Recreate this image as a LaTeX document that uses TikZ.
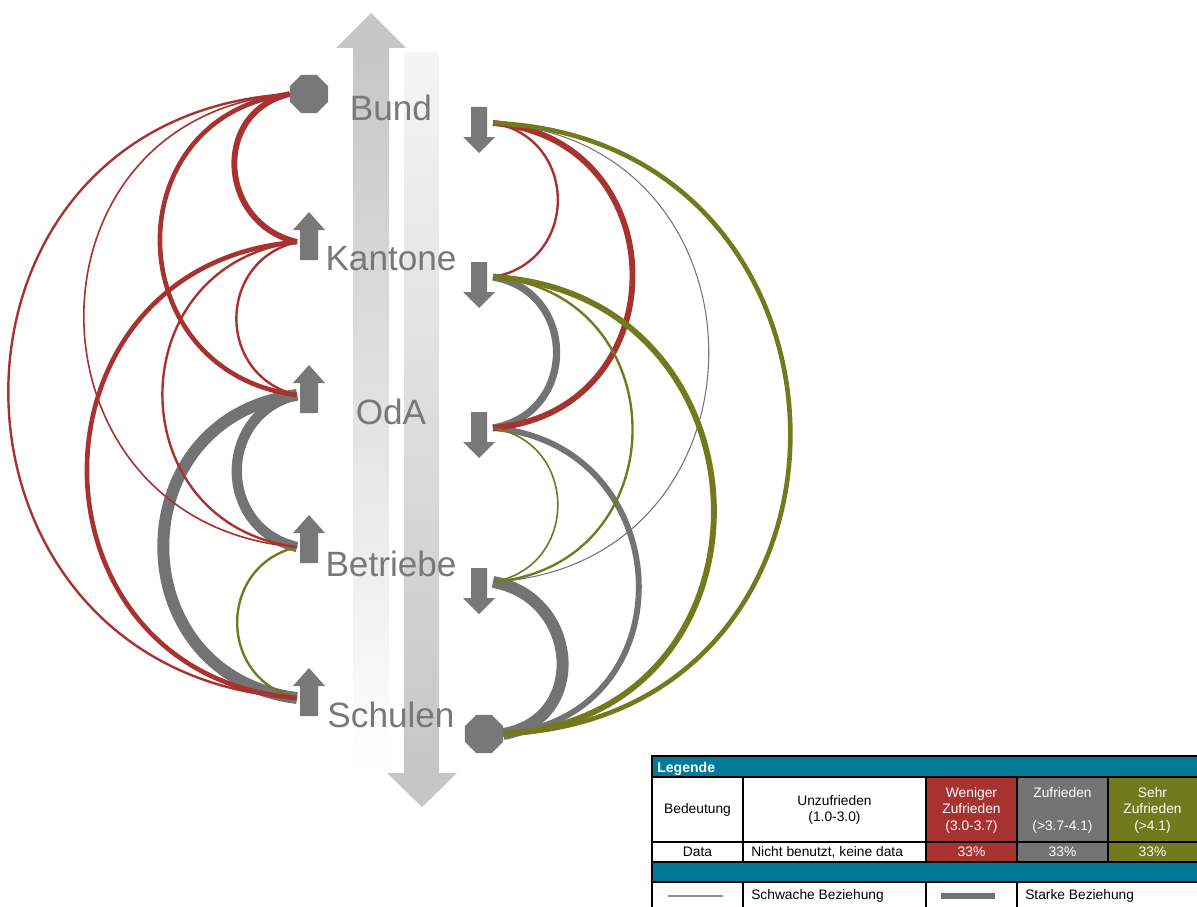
\documentclass[tikz,border=0pt]{standalone}
\usepackage{fontspec}
\setmainfont{Liberation Sans}
\usetikzlibrary{shapes.geometric}

\definecolor{weniger}{RGB}{168,50,47}
\definecolor{zufrieden}{RGB}{115,115,115}
\definecolor{sehr}{RGB}{113,122,28}
\definecolor{legteal}{RGB}{0,122,150}
\definecolor{icongrey}{RGB}{120,120,120}
\definecolor{labelgrey}{RGB}{120,120,120}
\definecolor{bandgrey}{RGB}{198,198,198}

\begin{document}
\begin{tikzpicture}[
    x = 0.025cm, y = 0.025cm, % one unit = one pixel of the sketch
    every node/.style = {inner sep = 0pt},
    actor/.style = {text = labelgrey, font = \fontsize{25}{29}\selectfont},
    legtext/.style = {font = \fontsize{9.8}{11.7}\selectfont, align = center},
    stopsign/.style = {regular polygon, regular polygon sides = 8,
      fill = icongrey, minimum size = 1.03cm},
    % arcs on the left (bulge left) and right (bulge right), by span
    lhop1/.style = {out = 193, in = 167, looseness = 1.39},
    lhop2/.style = {out = 187, in = 173, looseness = 1.52},
    lhop3/.style = {out = 184.5, in = 175.5, looseness = 1.58},
    lhop4/.style = {out = 183.4, in = 176.6, looseness = 1.61},
    rhop1/.style = {out = 350.3, in = 9.7, looseness = 1.46},
    rhop2/.style = {out = 355.1, in = 4.9, looseness = 1.57},
    rhop3/.style = {out = 356.7, in = 3.3, looseness = 1.61},
    rhop4/.style = {out = 357.6, in = 2.4, looseness = 1.63},
    % strength of a relation
    lw1/.style = {line width = 0.75pt},
    lw2/.style = {line width = 1.15pt},
    lw3/.style = {line width = 1.7pt},
    lw4/.style = {line width = 3.3pt},
    lw5/.style = {line width = 4.2pt},
    lw6/.style = {line width = 5.2pt},
    lw7/.style = {line width = 7.3pt},
    lw8/.style = {line width = 8.5pt}
  ]

  \tikzset{
    uparrow/.pic = {\fill[icongrey] (0,0) -- (16,-18) -- (9,-18) -- (9,-48)
      -- (-9,-48) -- (-9,-18) -- (-16,-18) -- cycle;},
    downarrow/.pic = {\fill[icongrey] (-8,0) -- (8,0) -- (8,-30) -- (16,-30)
      -- (0,-46) -- (-16,-30) -- (-8,-30) -- cycle;}
  }

  \useasboundingbox (0,0) rectangle (1197,-907);

  % the two big bands
  \fill[bandgrey] (371,-13) -- (406,-48) -- (336,-48) -- cycle;
  \shade[top color = bandgrey, middle color = bandgrey!80!white, bottom color = white]
    (353,-48) rectangle (389,-772);
  \shade[top color = white!96!black, bottom color = bandgrey]
    (404,-53) rectangle (439,-773);
  \fill[bandgrey] (387,-773) -- (457,-773) -- (422,-807) -- cycle;

  % actors
  \node[actor, anchor = base] (bund) at (391,-120) {Bund};
  \node[actor, anchor = base] (kantone) at (391,-270) {Kantone};
  \node[actor, anchor = base] (oda) at (391,-424) {OdA};
  \node[actor, anchor = base] (betriebe) at (391,-576) {Betriebe};
  \node[actor, anchor = base] (schulen) at (391,-727) {Schulen};

  % icons
  \node[stopsign] (bunL) at (309,-94) {};
  \pic at (309,-212) {uparrow};
  \pic at (309,-365) {uparrow};
  \pic at (309,-515) {uparrow};
  \pic at (309,-668) {uparrow};
  \pic at (479,-107) {downarrow};
  \pic at (479,-262) {downarrow};
  \pic at (479,-412) {downarrow};
  \pic at (479,-568) {downarrow};
  \node[stopsign] (schR) at (484,-734) {};

  \coordinate (kanL) at (297,-242);
  \coordinate (odaL) at (297,-395);
  \coordinate (betL) at (297,-547);
  \coordinate (schL) at (297,-698);
  \coordinate (bunR) at (493,-123);
  \coordinate (kanR) at (493,-277);
  \coordinate (odaR) at (493,-428);
  \coordinate (betR) at (493,-582);

  % left side
  \draw[zufrieden, lw8] (odaL) to[lhop2] (schL);
  \draw[zufrieden, lw7] (odaL) to[lhop1] (betL);
  \draw[sehr, lw3] (betL) to[lhop1] (schL);
  \draw[weniger, lw3] (bunL.west) to[lhop4] (schL);
  \draw[weniger, lw2] (bunL.west) to[lhop3] (betL);
  \draw[weniger, lw4] (bunL.west) to[lhop2] (odaL);
  \draw[weniger, lw5] (bunL.west) to[lhop1] (kanL);
  \draw[weniger, lw4] (kanL) to[lhop3] (schL);
  \draw[weniger, lw3] (kanL) to[lhop2] (betL);
  \draw[weniger, lw3] (kanL) to[lhop1] (odaL);

  % right side
  \draw[zufrieden, lw8] (betR) to[rhop1] (schR.east);
  \draw[zufrieden, lw5] (odaR) to[rhop2] (schR.east);
  \draw[zufrieden, lw6] (kanR) to[rhop1] (odaR);
  \draw[zufrieden, lw1] (bunR) to[rhop3] (betR);
  \draw[weniger, lw3] (bunR) to[rhop1] (kanR);
  \draw[weniger, lw5] (bunR) to[rhop2] (odaR);
  \draw[sehr, lw4] (bunR) to[rhop4] (schR.east);
  \draw[sehr, lw5] (kanR) to[rhop3] (schR.east);
  \draw[sehr, lw3] (kanR) to[rhop2] (betR);
  \draw[sehr, lw2] (odaR) to[rhop1] (betR);

  % legend
  \fill[legteal] (652,-756) rectangle (1200,-777);
  \fill[weniger] (926,-777) rectangle (1017,-862);
  \fill[zufrieden] (1017,-777) rectangle (1108,-862);
  \fill[sehr] (1108,-777) rectangle (1200,-862);
  \fill[legteal] (652,-862) rectangle (1200,-882);
  \draw[line width = 1pt] (1200,-756) -- (652,-756) -- (652,-910);
  \foreach \y in {777,842,862,882}
    \draw[line width = 1pt] (652,-\y) -- (1200,-\y);
  \foreach \x in {743,926,1017,1108}
    \draw[line width = 1pt] (\x,-777) -- (\x,-862);
  \foreach \x in {743,926,1017}
    \draw[line width = 1pt] (\x,-882) -- (\x,-910);

  \node[legtext, anchor = base west, text = white, font = \fontsize{10}{12}\selectfont\bfseries]
    (legende) at (657,-772) {Legende};
  \node[legtext] (bedeutung) at (697.5,-810) {Bedeutung};
  \node[legtext] (unzuf) at (834.5,-810) {Unzufrieden\\(1.0-3.0)};
  \node[legtext, text = white] (wenig) at (971.5,-810) {Weniger\\Zufrieden\\(3.0-3.7)};
  \node[legtext, text = white] (zuf) at (1062.5,-810) {Zufrieden\\\strut\\(>3.7-4.1)};
  \node[legtext, text = white] (sehrz) at (1152.5,-810) {Sehr\\Zufrieden\\(>4.1)};
  \node[legtext] (data) at (697.5,-852) {Data};
  \node[legtext, anchor = west] (keine) at (751,-852) {Nicht benutzt, keine data};
  \node[legtext, text = white] (pw) at (971.5,-852) {33\%};
  \node[legtext, text = white] (pz) at (1062.5,-852) {33\%};
  \node[legtext, text = white] (ps) at (1152.5,-852) {33\%};
  \draw[zufrieden!80!white, line width = 0.8pt] (668,-896) -- (723,-896);
  \node[legtext, anchor = west] (schwach) at (751,-896) {Schwache Beziehung};
  \fill[zufrieden] (941,-893) rectangle (995,-899);
  \node[legtext, anchor = west] (stark) at (1025,-896) {Starke Beziehung};

\end{tikzpicture}
\end{document}
